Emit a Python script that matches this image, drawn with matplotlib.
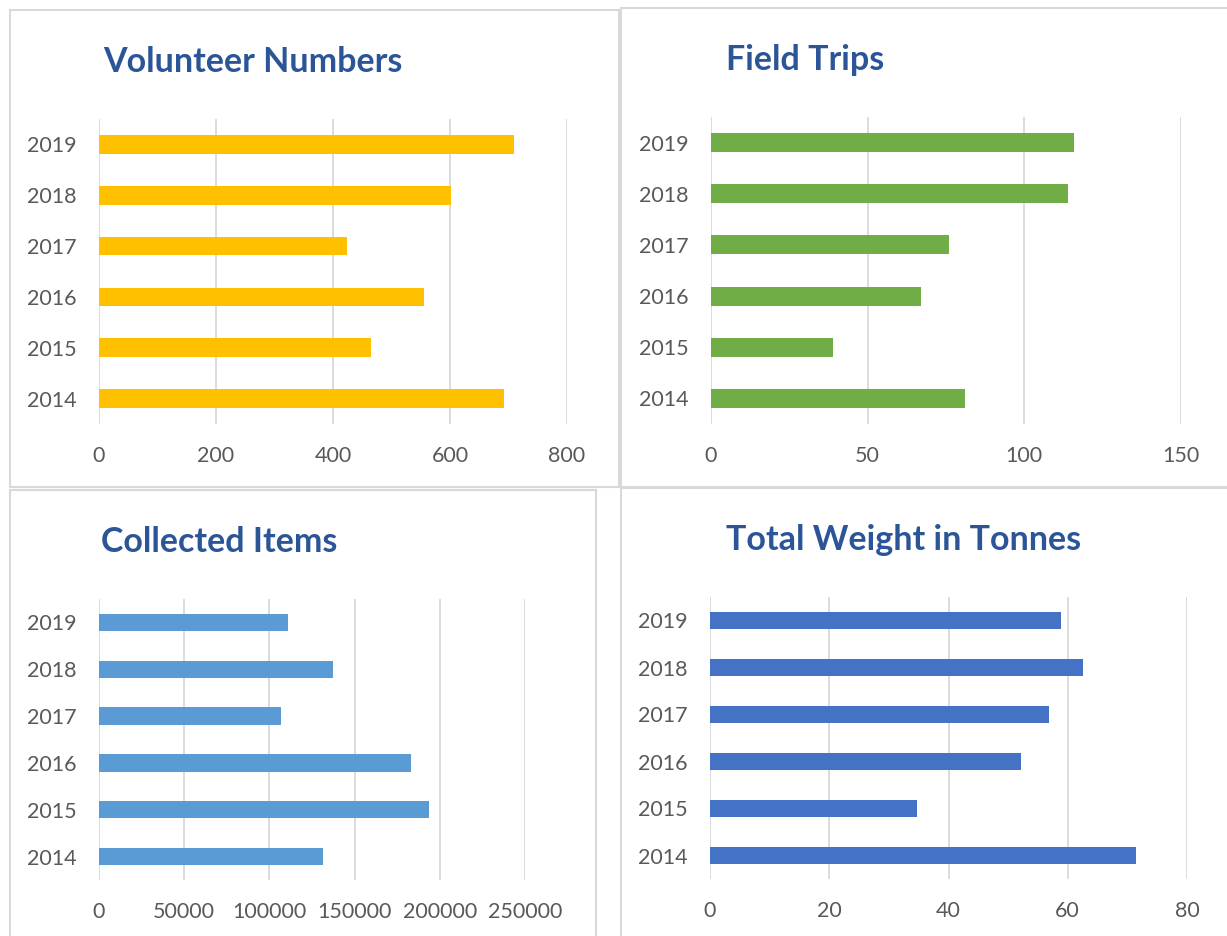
import matplotlib
matplotlib.use("Agg")
import matplotlib.pyplot as plt
from matplotlib.patches import Rectangle

# data
years = ["2014", "2015", "2016", "2017", "2018", "2019"]
volunteers = [692, 465, 555, 424, 601, 710]
field_trips = [81, 39, 67, 76, 114, 116]
collected_items = [131500, 193500, 183000, 107000, 137500, 111000]
weight_tonnes = [71.4, 34.8, 52.2, 56.9, 62.5, 58.9]

W, H = 1227, 936
plt.rcParams["font.family"] = ["Lato", "DejaVu Sans"]

fig = plt.figure(figsize=(W / 100, H / 100), dpi=100)
fig.patch.set_facecolor("white")


def px_axes(x0, x1, y0, y1):
    # pixel box (top-left origin) -> figure axes
    return fig.add_axes([x0 / W, 1 - y1 / H, (x1 - x0) / W, (y1 - y0) / H])


def box(x0, y0, x1, y1):
    fig.patches.append(Rectangle((x0 / W, 1 - y1 / H), (x1 - x0) / W, (y1 - y0) / H,
                                 transform=fig.transFigure, fill=False,
                                 edgecolor="#d9d9d9", linewidth=1.5))


def draw_panel(ax, values, color, xmax, step):
    ax.barh(years, values, height=0.37, color=color, zorder=3)
    ax.set_xlim(0, xmax)
    ax.set_ylim(-0.5, 5.5)
    ax.set_xticks(range(0, xmax + 1, step))
    ax.grid(axis="x", color="#d9d9d9", linewidth=1.3, zorder=0)
    for s in ax.spines.values():
        s.set_visible(False)
    ax.tick_params(length=0, labelsize=15.5, labelcolor="#595959")
    ax.tick_params(axis="x", pad=16)
    ax.tick_params(axis="y", pad=16)


# panel frames
box(10, 10, 619, 487)
box(621, 8, 1240, 487)
box(10, 490, 596, 950)
box(621, 488, 1240, 950)

ax1 = px_axes(99, 567, 119, 424)
draw_panel(ax1, volunteers, "#ffc000", 800, 200)

ax2 = px_axes(711, 1181, 117, 424)
draw_panel(ax2, field_trips, "#70ad47", 150, 50)

ax3 = px_axes(99, 525, 599, 880)
draw_panel(ax3, collected_items, "#5b9bd5", 250000, 50000)

ax4 = px_axes(710, 1187, 597, 879)
draw_panel(ax4, weight_tonnes, "#4472c4", 80, 20)

title_style = dict(fontsize=24.5, fontweight="bold", color="#2b5597", va="center", ha="left")
fig.text(103 / W, 1 - 62 / H, "Volunteer Numbers", **title_style)
fig.text(726 / W, 1 - 60 / H, "Field Trips", **title_style)
fig.text(101 / W, 1 - 542 / H, "Collected Items", **title_style)
fig.text(726 / W, 1 - 540 / H, "Total Weight in Tonnes", **title_style)

fig.savefig("out.png", dpi=100)
